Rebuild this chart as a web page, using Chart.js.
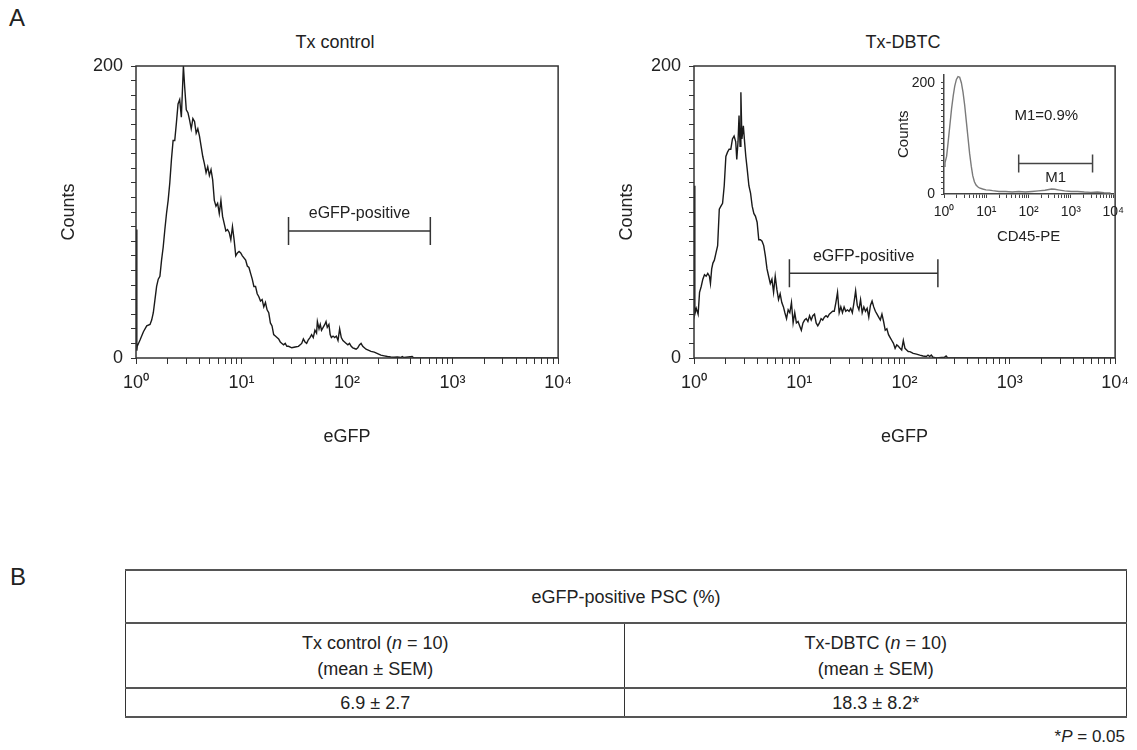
<!DOCTYPE html>
<html>
<head>
<meta charset="utf-8">
<script src="https://cdn.jsdelivr.net/npm/chart.js@4.4.0/dist/chart.umd.min.js"></script>
<style>
  body { margin:0; background:#fff; width:1137px; height:750px; position:relative; overflow:hidden;
         font-family:"Liberation Sans", Arial, sans-serif; color:#222; }
  .lbl { position:absolute; white-space:nowrap; }
  .box { position:absolute; }
  .ttl { position:absolute; font-size:18px; transform:translate(-50%,-50%); white-space:nowrap; }
  table { border-collapse:collapse; width:100%; font-size:18px; color:#222; }
  td { text-align:center; border-left:1px solid #333; border-right:1px solid #333; padding:0; line-height:26px; }
  tr.r1 td { border-top:2px solid #555; border-bottom:2px solid #555; height:51px; }
  tr.r2 td { border-bottom:2px solid #555; height:63px; }
  tr.r3 td { border-bottom:2px solid #555; height:27px; }
</style>
</head>
<body>
<div class="lbl" style="left:9px;top:4px;font-size:24px;">A</div>
<div class="ttl" style="left:335px;top:42px;">Tx control</div>
<div class="ttl" style="left:903px;top:42px;">Tx-DBTC</div>

<div class="box" style="left:0;top:0;width:580px;height:450px;"><canvas id="ctrlChart"></canvas></div>
<div class="box" style="left:558px;top:0;width:579px;height:450px;"><canvas id="dbtcChart"></canvas></div>
<div class="box" style="left:880px;top:60px;width:250px;height:190px;"><canvas id="insetChart"></canvas></div>

<div class="lbl" style="left:10px;top:563px;font-size:24px;">B</div>
<div class="box" style="left:125px;top:569px;width:1002px;">
  <table>
    <tr class="r1"><td colspan="2">eGFP-positive PSC (%)</td></tr>
    <tr class="r2"><td style="width:49.9%">Tx control (<i>n</i> = 10)<br>(mean ± SEM)</td><td>Tx-DBTC (<i>n</i> = 10)<br>(mean ± SEM)</td></tr>
    <tr class="r3"><td>6.9 ± 2.7</td><td>18.3 ± 8.2*</td></tr>
  </table>
</div>
<div class="lbl" style="right:12px;top:727px;font-size:17px;">*<i>P</i> = 0.05</div>

<script>
// histogram data: [channel (1024 ch over 4 log decades), counts]
const ctrlHist = [[0,88],[2,5],[3,8],[10,12.5],[18,18],[26,22],[34,23],[38,26],[42,31],[46,40],[50,49],[54,54],[58,56],[62,67],[66,76],[70,88],[74,99],[78,108],[82,120],[86,136],[90,149],[94,149],[98,161],[102,174],[106,177],[110,165],[112,179],[115,200],[118,186],[122,170],[126,168],[130,163],[134,157],[138,164],[142,162],[146,154],[150,157],[154,152],[158,145],[162,138],[166,133],[170,127],[174,131],[178,125],[182,129],[186,122],[190,108],[194,104],[198,106],[202,99],[206,108],[210,97],[214,92],[218,87],[222,88],[226,86],[230,81],[234,90],[238,81],[242,70],[246,72],[250,73],[254,72],[258,70],[266,67],[270,63],[274,62],[278,58],[282,54],[286,49],[290,49],[294,44],[298,42],[302,39],[306,40],[310,35],[314,38],[318,33],[322,31],[326,24],[330,22],[334,16],[338,15],[342,14],[346,13],[350,11],[354,10],[358,9],[362,10],[366,8],[370,8],[378,7],[386,7.5],[394,8],[402,10],[406,13],[410,11],[414,10],[418,12.5],[422,14],[426,16],[430,14],[434,19],[438,17],[440,25],[444,20],[447,23],[450,19],[454,21],[458,23],[461,25],[464,21],[468,23],[471,16],[474,14],[478,15],[482,14],[486,15],[490,12],[494,20],[498,14],[502,12],[506,11],[510,10],[514,9],[518,10],[522,8],[526,7],[530,6.5],[534,6],[538,7],[542,9],[546,10],[550,8],[554,7],[558,6],[562,5.5],[570,4.5],[578,4],[586,3],[594,2],[602,1.5],[610,1],[618,0.7],[626,0.5],[634,0.7],[642,0.3],[646,1],[650,0.3],[670,1],[674,0],[1024,0]];

const dbtcHist = [[0,118],[2,30],[5.5,34],[10,30],[13.5,45],[17.5,49],[21.5,54],[25.5,57],[29.5,56],[33.5,58],[37.5,56],[40,51],[43,61],[46,65],[49.5,67],[53.5,72],[57.5,77],[61.5,102],[65.5,104],[69.5,106],[73.5,118],[77.5,138],[81.5,141],[85.5,143],[89.5,143],[93.5,150],[97.5,152],[101.5,148],[104,136],[107,148],[109.5,166],[112,145],[114,182],[116.5,150],[120,159],[123,148],[126,138],[129.5,129],[133.5,118],[137.5,113],[141.5,104],[145.5,99],[149.5,97],[153.5,93],[157.5,81],[161.5,81],[165.5,80],[169.5,77],[173.5,70],[177.5,61],[181.5,56],[185.5,51],[189.5,54],[193.5,45],[197.5,56],[201.5,47],[205.5,40],[209.5,44],[213.5,38],[217.5,35],[221,31],[225,27],[229,33],[233,31],[237,38],[241,24],[245,31],[249,24],[253,25],[257,22],[261,19],[265,24],[269,26],[273,27],[277,25],[281,29],[285,26],[289,29],[293,30],[297,24],[301,22],[305,24],[309,27],[313,26],[317,28],[321,29],[325,28],[329,30],[333,31],[337,32],[341,32],[345,38],[349,45],[353,31],[357,35],[361,31],[365,35],[369,32],[373,33],[377,32],[381,34],[385,31],[389,38],[393,46],[397,36],[401,33],[405,40],[409,31],[413,35],[417,32],[421,34],[425,28],[429,36],[433,39],[437,35],[441,32],[445,30],[449,28],[453,26],[457,30],[461,25],[465,19],[469,20],[473,16],[477,14],[481,12],[485,10],[489,6.6],[493,9],[497,8],[501,6.6],[505,5.5],[509,12],[513,6.6],[517,5.5],[521,4.4],[525,4.4],[533,3.2],[541,2.7],[549,2],[557,1.4],[565,1],[569,2],[573,1],[577,2],[581,0.5],[589,0],[609,0.5],[613,1.4],[617,0],[1024,0]];

const cd45Hist = [[0,50],[6,56],[16,68],[26,96],[36,125],[46,154],[56,177],[65,194],[75,206],[85,211],[95,210],[105,200],[115,183],[125,160],[135,131],[145,102],[155,73],[165,50],[174,33],[184,22],[194,16],[204,13],[214,11],[234,9],[254,7.5],[274,7],[294,6],[333,4.5],[373,4.5],[413,3.5],[452,4.5],[492,3.5],[532,4.5],[571,5.6],[611,6.8],[651,9],[671,8.5],[690,7.5],[730,5.6],[770,4.5],[809,4.5],[849,3.5],[889,2.9],[929,3.5],[968,2.3],[1008,1.7]];

// gates: [from channel, to channel, count level]
const ctrlGate = [370, 714, 87];
const dbtcGate = [232, 593, 58];
const m1Gate = [452, 899, 55];

const sup = ['\u2070', '\u00b9', '\u00b2', '\u00b3', '\u2074'];
const CH_PER_DECADE = 256;

function logTicks() {
  var out = [];
  for (var d = 0; d < 4; d++) {
    for (var k = 1; k < 10; k++) out.push((d + Math.log10(k)) * CH_PER_DECADE);
  }
  out.push(4 * CH_PER_DECADE);
  return out;
}
function decadeLabel(v) {
  var d = v / CH_PER_DECADE;
  return Number.isInteger(d) ? '10' + sup[d] : '';
}
function toPoints(hist) {
  return hist.map(function(p) { return {x: p[0], y: p[1]}; });
}

const framePlugin = {
  id: 'frame',
  afterDatasetsDraw(chart, args, opts) {
    if (!opts.show) return;
    const a = chart.chartArea, ctx = chart.ctx;
    ctx.save();
    ctx.strokeStyle = '#333';
    ctx.lineWidth = 1.5;
    ctx.strokeRect(a.left, a.top, a.right - a.left, a.bottom - a.top);
    ctx.restore();
  }
};

const gatePlugin = {
  id: 'gate',
  afterDatasetsDraw(chart, args, opts) {
    if (!opts.range) return;
    const ctx = chart.ctx, x = chart.scales.x, y = chart.scales.y;
    const x1 = x.getPixelForValue(opts.range[0]);
    const x2 = x.getPixelForValue(opts.range[1]);
    const yy = y.getPixelForValue(opts.range[2]);
    ctx.save();
    ctx.strokeStyle = opts.color;
    ctx.lineWidth = opts.width;
    ctx.beginPath();
    ctx.moveTo(x1, yy); ctx.lineTo(x2, yy);
    ctx.moveTo(x1, yy - opts.half); ctx.lineTo(x1, yy + opts.half);
    ctx.moveTo(x2, yy - opts.half); ctx.lineTo(x2, yy + opts.half);
    ctx.stroke();
    ctx.fillStyle = '#222';
    ctx.font = opts.font;
    ctx.textAlign = 'center';
    ctx.textBaseline = 'middle';
    ctx.fillText(opts.label, (x1 + x2) / 2, yy + opts.labelDy);
    if (opts.note) {
      ctx.fillText(opts.note[0], x.getPixelForValue(opts.note[1]), y.getPixelForValue(opts.note[2]));
    }
    ctx.restore();
  }
};

function histChart(id, hist, gate, o) {
  return new Chart(document.getElementById(id), {
    type: 'line',
    data: { datasets: [{ data: toPoints(hist), borderColor: o.lineColor, borderWidth: o.lineWidth,
                         pointRadius: 0, tension: 0, fill: false }] },
    options: {
      responsive: true,
      maintainAspectRatio: false,
      animation: false,
      devicePixelRatio: 1,
      layout: { padding: o.pad },
      plugins: {
        legend: { display: false },
        tooltip: { enabled: false },
        frame: { show: o.frame },
        gate: { range: gate, color: o.gateColor, width: o.gateWidth, half: o.gateHalf,
                label: o.gateLabel, labelDy: o.gateDy, font: o.gateFont, note: o.note }
      },
      scales: {
        x: {
          type: 'linear', min: 0, max: 1024,
          afterBuildTicks: function(s) { s.ticks = logTicks().map(function(v) { return {value: v}; }); },
          afterFit: function(s) { s.height = o.xHeight; },
          border: { display: !o.frame, color: o.axisColor, width: 1.5 },
          grid: { drawOnChartArea: false, drawTicks: true, tickLength: o.tick, color: o.axisColor },
          ticks: { autoSkip: false, maxRotation: 0, padding: o.xPad, color: '#222',
                   font: { size: o.tickSize, family: 'Liberation Sans' }, callback: decadeLabel },
          title: { display: true, text: o.xTitle, color: '#222', padding: { top: 0, bottom: 0 },
                   font: { size: o.titleSize, family: 'Liberation Sans' } }
        },
        y: {
          min: 0, max: o.yMax,
          afterBuildTicks: function(s) {
            var t = [];
            for (var v = 0; v <= 200; v += 10) t.push({value: v});
            s.ticks = t;
          },
          afterFit: function(s) { s.width = o.yWidth; },
          border: { display: !o.frame, color: o.axisColor, width: 1.5 },
          grid: { drawOnChartArea: false, drawTicks: true, tickLength: o.tick - 1, color: o.axisColor },
          ticks: { autoSkip: false, padding: o.yPad, color: '#222',
                   font: { size: o.tickSize, family: 'Liberation Sans' },
                   callback: function(v) { return (v === 0 || v === 200) ? String(v) : ''; } },
          title: { display: true, text: 'Counts', color: '#222', padding: { top: o.yTitleTop, bottom: 0 },
                   font: { size: o.titleSize, family: 'Liberation Sans' } }
        }
      }
    },
    plugins: [framePlugin, gatePlugin]
  });
}

const mainOpts = {
  lineColor: '#1a1a1a', lineWidth: 1.4, frame: true, axisColor: '#333',
  gateColor: '#333', gateWidth: 1.5, gateHalf: 14, gateLabel: 'eGFP-positive', gateDy: -17,
  gateFont: '16px "Liberation Sans"', note: null,
  xHeight: 90, yWidth: 78, tick: 6, xPad: 8, yPad: 8, tickSize: 18, titleSize: 18,
  xTitle: 'eGFP', yMax: 200, yTitleTop: 0
};

histChart('ctrlChart', ctrlHist, ctrlGate,
  Object.assign({}, mainOpts, { pad: { left: 58, right: 18, top: 66, bottom: 2 } }));
histChart('dbtcChart', dbtcHist, dbtcGate,
  Object.assign({}, mainOpts, { pad: { left: 58, right: 15, top: 66, bottom: 2 } }));
histChart('insetChart', cd45Hist, m1Gate, {
  lineColor: '#7a7a7a', lineWidth: 1.4, frame: false, axisColor: '#444',
  gateColor: '#444', gateWidth: 1.5, gateHalf: 9, gateLabel: 'M1', gateDy: 14,
  gateFont: '15px "Liberation Sans"', note: ['M1=0.9%', 619, 140],
  xHeight: 52, yWidth: 64, tick: 4, xPad: 6, yPad: 6, tickSize: 14, titleSize: 15,
  xTitle: 'CD45-PE', yMax: 215, yTitleTop: 15,
  pad: { left: 0, right: 14, top: 10, bottom: 4 }
});
</script>
</body>
</html>
